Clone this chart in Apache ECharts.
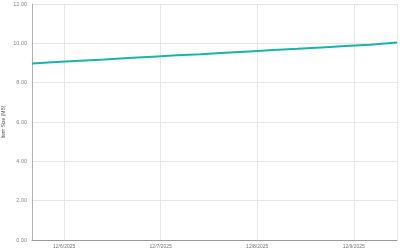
<!DOCTYPE html>
<html>
<head>
<meta charset="utf-8">
<script src="https://cdn.jsdelivr.net/npm/echarts@6/dist/echarts.min.js"></script>
<style>html,body{margin:0;padding:0;background:#fff}#c{width:400px;height:251px}</style>
</head>
<body>
<div id="c"></div>
<script>
const times = [
  '2025-12-05T16:00:00','2025-12-05T22:00:00','2025-12-06T04:00:00','2025-12-06T10:00:00',
  '2025-12-06T16:00:00','2025-12-06T22:00:00','2025-12-07T04:00:00','2025-12-07T10:00:00',
  '2025-12-07T16:00:00','2025-12-07T22:00:00','2025-12-08T04:00:00','2025-12-08T10:00:00',
  '2025-12-08T16:00:00','2025-12-08T22:00:00','2025-12-09T04:00:00','2025-12-09T10:45:00'
];
const sizes = [8.98, 9.05, 9.12, 9.18, 9.25, 9.32, 9.39, 9.45, 9.52, 9.59, 9.66, 9.72, 9.79, 9.86, 9.93, 10.04];
const yTicks = [0, 2, 4, 6, 8, 10, 12];
const yName = 'Item Size (MB)';

const chart = echarts.init(document.getElementById('c'), null, {renderer: 'canvas'});
chart.setOption({
  animation: false,
  grid: {left: 32, right: 3, top: 4, bottom: 11, containLabel: false, outerBoundsMode: 'none'},
  xAxis: {
    type: 'time',
    min: new Date(times[0]).getTime(),
    max: new Date(times[times.length - 1]).getTime(),
    minInterval: 86400000,
    maxInterval: 86400000,
    axisLine: {show: true, lineStyle: {color: '#9a9a9a', width: 1}},
    axisTick: {show: false},
    splitLine: {show: true, lineStyle: {color: '#e6e6e6', width: 1}},
    axisLabel: {
      fontSize: 5, color: '#777', margin: 4, fontFamily: 'Liberation Sans, Arial',
      showMinLabel: false, showMaxLabel: false,
      formatter: function (v) {
        const d = new Date(v);
        return (d.getMonth() + 1) + '/' + d.getDate() + '/' + d.getFullYear();
      }
    }
  },
  yAxis: {
    type: 'value',
    min: yTicks[0],
    max: yTicks[yTicks.length - 1],
    interval: yTicks[1] - yTicks[0],
    name: yName,
    nameLocation: 'middle',
    nameGap: 26,
    nameMoveOverlap: false,
    nameTextStyle: {fontSize: 5, color: '#555', fontFamily: 'Liberation Sans, Arial'},
    axisLine: {show: true, lineStyle: {color: '#b0b0b0', width: 1}},
    axisTick: {show: false},
    splitLine: {show: true, lineStyle: {color: '#e6e6e6', width: 1}},
    axisLabel: {
      fontSize: 5.5, color: '#888', margin: 5, fontFamily: 'Liberation Sans, Arial',
      formatter: function (v) { return v.toFixed(2); }
    }
  },
  series: [{
    type: 'line',
    data: times.map((t, i) => [new Date(t).getTime(), sizes[i]]),
    showSymbol: false,
    symbol: 'none',
    lineStyle: {color: '#17b5a6', width: 2},
    itemStyle: {color: '#17b5a6'}
  }]
});
</script>
</body>
</html>
